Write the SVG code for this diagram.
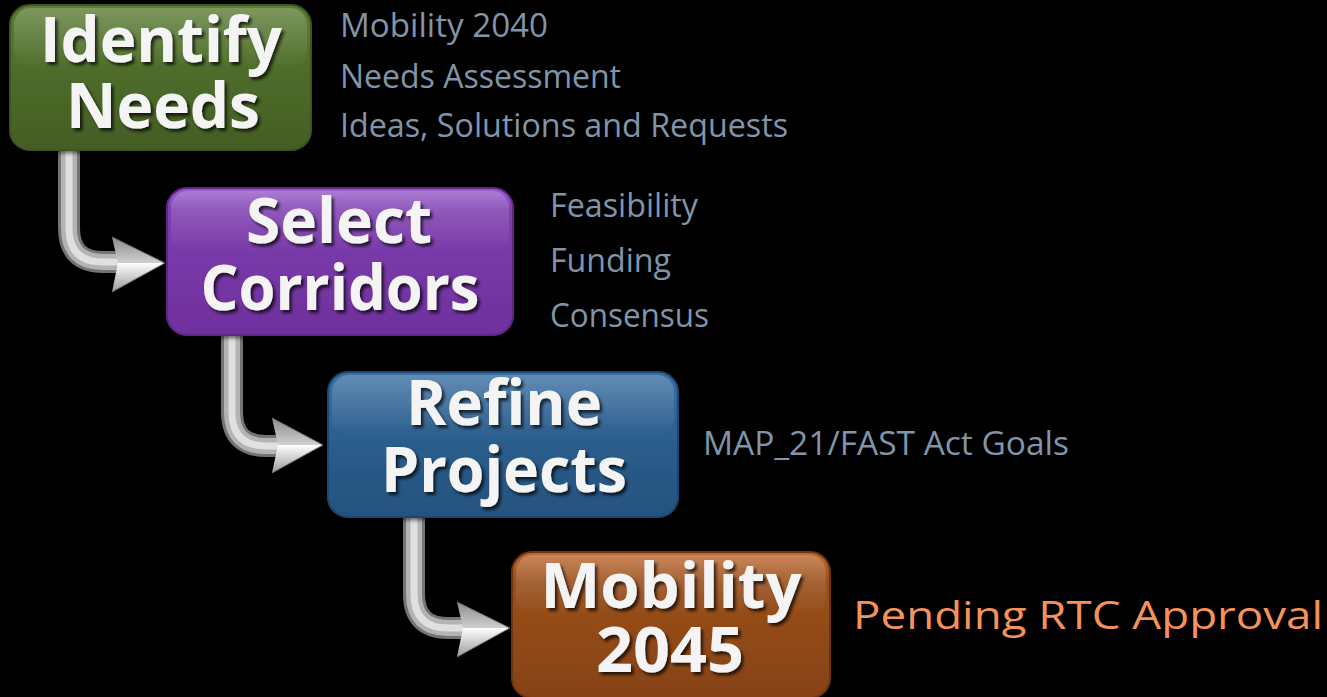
<svg xmlns="http://www.w3.org/2000/svg" width="1327" height="697" viewBox="0 0 1327 697">
  <defs>
    <style>
      .title { font-family: "Open Sans", "Liberation Sans", sans-serif; font-weight: 700; font-size: 62px; fill: #f4f4f4; text-anchor: middle; filter: url(#txtShadow); }
      .note { font-family: "Open Sans", "Liberation Sans", sans-serif; font-size: 32px; fill: #8195aa; }
      .pending { font-family: "Open Sans", "Liberation Sans", sans-serif; font-size: 38px; fill: #f4925a; }
      .gloss { fill: url(#gloss); }
      .shaft-outer { fill: none; stroke: #747474; stroke-width: 22; }
      .shaft-mid { fill: none; stroke: #b4b4b4; stroke-width: 16; }
      .shaft-inner { fill: none; stroke: #e0e0e0; stroke-width: 7; }
    </style>
    <filter id="txtShadow" x="-10%" y="-20%" width="130%" height="150%">
      <feDropShadow dx="2.5" dy="3" stdDeviation="1.8" flood-color="#000" flood-opacity="0.7"/>
    </filter>
    <filter id="boxShadow" x="-10%" y="-10%" width="120%" height="130%">
      <feDropShadow dx="0" dy="2" stdDeviation="2" flood-color="#000" flood-opacity="0.6"/>
    </filter>
    <linearGradient id="gGreen" x1="0" y1="0" x2="0" y2="1">
      <stop offset="0" stop-color="#5c7d35"/>
      <stop offset="0.5" stop-color="#4d6b2a"/>
      <stop offset="1" stop-color="#435e23"/>
    </linearGradient>
    <linearGradient id="gPurple" x1="0" y1="0" x2="0" y2="1">
      <stop offset="0" stop-color="#9a5fcc"/>
      <stop offset="0.15" stop-color="#7f3fb0"/>
      <stop offset="1" stop-color="#6e2f9c"/>
    </linearGradient>
    <linearGradient id="gBlue" x1="0" y1="0" x2="0" y2="1">
      <stop offset="0" stop-color="#3a6fa2"/>
      <stop offset="0.5" stop-color="#2b5d8c"/>
      <stop offset="1" stop-color="#24527e"/>
    </linearGradient>
    <linearGradient id="gOrange" x1="0" y1="0" x2="0" y2="1">
      <stop offset="0" stop-color="#c06a32"/>
      <stop offset="0.2" stop-color="#9a501c"/>
      <stop offset="1" stop-color="#864212"/>
    </linearGradient>
    <linearGradient id="gloss" x1="0" y1="0" x2="0" y2="1">
      <stop offset="0" stop-color="#fff" stop-opacity="0.2"/>
      <stop offset="1" stop-color="#fff" stop-opacity="0"/>
    </linearGradient>
    <linearGradient id="headTop" x1="0" y1="0" x2="0" y2="1">
      <stop offset="0" stop-color="#8a8a8a"/>
      <stop offset="1" stop-color="#d0d0d0"/>
    </linearGradient>
    <linearGradient id="headBot" x1="0" y1="0" x2="0" y2="1">
      <stop offset="0" stop-color="#ffffff"/>
      <stop offset="1" stop-color="#9a9a9a"/>
    </linearGradient>
  </defs>

  <rect width="1327" height="697" fill="#000"/>

  <!-- silver bent arrows between the steps -->
  <g id="connectors">
    <g id="arrow-1">
      <path class="shaft-outer" d="M69 148 V228 Q69 262 103 262 H118"/>
      <path class="shaft-mid" d="M69 148 V228 Q69 262 103 262 H118"/>
      <path class="shaft-inner" d="M69 148 V228 Q69 262 103 262 H118"/>
      <polygon points="112,237 165,263 118,263" fill="url(#headTop)"/>
      <polygon points="118,263 165,263 112,292" fill="url(#headBot)"/>
      <polyline points="112,237 165,263 112,292" fill="none" stroke="#6e6e6e" stroke-width="1"/>
    </g>
    <g id="arrow-2">
      <path class="shaft-outer" d="M232 333 V412 Q232 446 266 446 H278"/>
      <path class="shaft-mid" d="M232 333 V412 Q232 446 266 446 H278"/>
      <path class="shaft-inner" d="M232 333 V412 Q232 446 266 446 H278"/>
      <polygon points="272,418 323,445 278,445" fill="url(#headTop)"/>
      <polygon points="278,445 323,445 272,473" fill="url(#headBot)"/>
      <polyline points="272,418 323,445 272,473" fill="none" stroke="#6e6e6e" stroke-width="1"/>
    </g>
    <g id="arrow-3">
      <path class="shaft-outer" d="M414 515 V594 Q414 628 448 628 H463"/>
      <path class="shaft-mid" d="M414 515 V594 Q414 628 448 628 H463"/>
      <path class="shaft-inner" d="M414 515 V594 Q414 628 448 628 H463"/>
      <polygon points="457,602 510,628 463,628" fill="url(#headTop)"/>
      <polygon points="463,628 510,628 457,657" fill="url(#headBot)"/>
      <polyline points="457,602 510,628 457,657" fill="none" stroke="#6e6e6e" stroke-width="1"/>
    </g>
  </g>

  <g id="identify-needs">
    <rect x="10" y="5" width="301" height="145" rx="20" fill="url(#gGreen)" stroke="#3c5420" stroke-width="2" filter="url(#boxShadow)"/>
    <rect x="14" y="8" width="293" height="60" rx="17" class="gloss"/>
    <text class="title" x="161" y="62" textLength="242" lengthAdjust="spacingAndGlyphs">Identify</text>
    <text class="title" x="163" y="128" textLength="194" lengthAdjust="spacingAndGlyphs">Needs</text>
    <text class="note" x="340" y="37" textLength="208" lengthAdjust="spacingAndGlyphs">Mobility 2040</text>
    <text class="note" x="340" y="88" textLength="281" lengthAdjust="spacingAndGlyphs">Needs Assessment</text>
    <text class="note" x="340" y="137" textLength="448" lengthAdjust="spacingAndGlyphs">Ideas, Solutions and Requests</text>
  </g>

  <g id="select-corridors">
    <rect x="167" y="188" width="346" height="147" rx="20" fill="url(#gPurple)" stroke="#5e2888" stroke-width="2" filter="url(#boxShadow)"/>
    <rect x="171" y="191" width="338" height="60" rx="17" class="gloss"/>
    <text class="title" x="339" y="243" textLength="186" lengthAdjust="spacingAndGlyphs">Select</text>
    <text class="title" x="340" y="310" textLength="279" lengthAdjust="spacingAndGlyphs">Corridors</text>
    <text class="note" x="550" y="217" textLength="148" lengthAdjust="spacingAndGlyphs">Feasibility</text>
    <text class="note" x="550" y="272" textLength="121" lengthAdjust="spacingAndGlyphs">Funding</text>
    <text class="note" x="550" y="327" textLength="159" lengthAdjust="spacingAndGlyphs">Consensus</text>
  </g>

  <g id="refine-projects">
    <rect x="328" y="372" width="350" height="145" rx="20" fill="url(#gBlue)" stroke="#1e4670" stroke-width="2" filter="url(#boxShadow)"/>
    <rect x="332" y="375" width="342" height="60" rx="17" class="gloss"/>
    <text class="title" x="504" y="425" textLength="196" lengthAdjust="spacingAndGlyphs">Refine</text>
    <text class="title" x="504" y="492" textLength="246" lengthAdjust="spacingAndGlyphs">Projects</text>
    <text class="note" x="703" y="455" textLength="366" lengthAdjust="spacingAndGlyphs">MAP_21/FAST Act Goals</text>
  </g>

  <g id="mobility-2045">
    <rect x="512" y="552" width="318" height="146" rx="20" fill="url(#gOrange)" stroke="#6e3410" stroke-width="2" filter="url(#boxShadow)"/>
    <rect x="516" y="555" width="310" height="60" rx="17" class="gloss"/>
    <text class="title" x="671" y="608" textLength="261" lengthAdjust="spacingAndGlyphs">Mobility</text>
    <text class="title" x="670" y="672" textLength="148" lengthAdjust="spacingAndGlyphs">2045</text>
    <text class="pending" x="853" y="629" textLength="470" lengthAdjust="spacingAndGlyphs">Pending RTC Approval</text>
  </g>
</svg>
